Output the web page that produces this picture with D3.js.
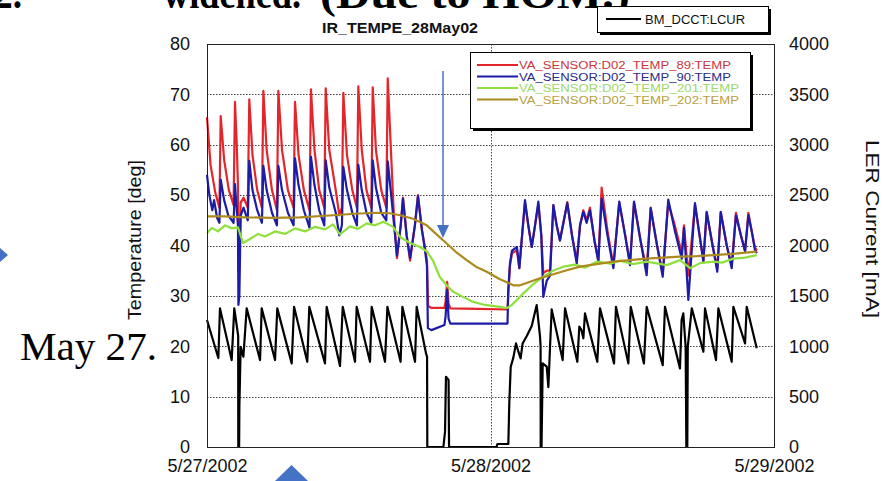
<!DOCTYPE html>
<html>
<head>
<meta charset="utf-8">
<script src="https://cdn.jsdelivr.net/npm/d3@7/dist/d3.min.js"></script>
<style>
  body { margin: 0; background: #fff; }
  svg { display: block; }
  .tick text { font-family: Arial, "Liberation Sans", sans-serif; font-size: 18px; fill: #111; }
</style>
</head>
<body>
<div id="chart"></div>
<script>
// ticks
var tempTicks = [0, 10, 20, 30, 40, 50, 60, 70, 80];
var currentTicks = [0, 500, 1000, 1500, 2000, 2500, 3000, 3500, 4000];
var dateTicks = ['2002-05-27', '2002-05-28', '2002-05-29'];

var seriesNames = [
  'VA_SENSOR:D02_TEMP_89:TEMP',
  'VA_SENSOR:D02_TEMP_90:TEMP',
  'VA_SENSOR:D02_TEMP_201:TEMP',
  'VA_SENSOR:D02_TEMP_202:TEMP'
];
var currentName = 'BM_DCCT:LCUR';

// [hours after 5/27/2002 00:00, value]
var temp89 = [
  [0, 65.5], [0.3, 56], [0.7, 50.5], [1.05, 47.5], [1.16, 65.7], [1.45, 57], [1.85, 51], [2.25, 48],
  [2.37, 68.5], [2.52, 60], [2.62, 52], [2.66, 35], [2.76, 38], [2.85, 48.5], [3.1, 49.5], [3.45, 47.5],
  [3.58, 69], [3.85, 58], [4.25, 51], [4.65, 47.5], [4.77, 70.7], [5.05, 59], [5.5, 51], [5.92, 47],
  [6.04, 70.7], [6.35, 59], [6.85, 51], [7.33, 47.5], [7.45, 68.5], [7.75, 58], [8.2, 51], [8.68, 47],
  [8.8, 71], [9.1, 59], [9.5, 51], [9.93, 47.5], [10.05, 71.2], [10.35, 59], [10.9, 51], [11.2, 46],
  [11.42, 47.5], [11.54, 70.3], [11.85, 58], [12.3, 51], [12.69, 47.5], [12.81, 71.6], [13.1, 59],
  [13.5, 51], [13.91, 47.5], [14.03, 71.4], [14.3, 59], [14.75, 51], [15.18, 47.5], [15.3, 73.2],
  [15.55, 60], [15.8, 47], [16.08, 37.5], [16.4, 44], [16.59, 49.5], [16.9, 42], [17.19, 37],
  [17.6, 44], [17.86, 50], [18.2, 43], [18.46, 39.5], [18.62, 37], [18.72, 28], [19, 27.6],
  [20.1, 27.6], [20.2, 29], [20.33, 32.8], [20.45, 28.5], [20.6, 27.5], [23, 27.4], [25.44, 27.3],
  [25.52, 31], [25.65, 36], [25.82, 38.5], [26.24, 39], [26.44, 35.5], [26.92, 48.5], [27.2, 44],
  [27.49, 39.7], [27.77, 44], [28.05, 48.2], [28.3, 42], [28.47, 34.5], [28.76, 35], [29.04, 35],
  [29.32, 48], [29.6, 44], [29.88, 41], [30.5, 48.6], [30.9, 42], [31.3, 37], [31.58, 44], [31.86, 47],
  [32.14, 45], [32.42, 47.5], [32.8, 41], [33.13, 37], [33.41, 51.5], [33.9, 43], [34.4, 36],
  [34.9, 48.5], [35.4, 42], [35.81, 36.5], [36.15, 48.5], [36.7, 41], [37.22, 35], [37.56, 47.5],
  [38.1, 40], [38.58, 34.5], [39.05, 48.5], [39.6, 44], [40.19, 38.5], [40.38, 44], [40.75, 34],
  [41.31, 48], [41.7, 42], [42.02, 37], [42.3, 46.5], [42.8, 40], [43.2, 35.5], [43.49, 46.5],
  [44.0, 40], [44.42, 36], [44.78, 46.5], [45.2, 42], [45.55, 39], [45.83, 46.5], [46.1, 43],
  [46.39, 39.5], [46.56, 39]
];

var temp90 = [
  [0, 54], [0.2, 50], [0.45, 47], [0.6, 49], [0.85, 45.5], [1.05, 44.5], [1.16, 53.1], [1.45, 49],
  [1.8, 46], [2.25, 44.5], [2.37, 52.2], [2.52, 47], [2.62, 44], [2.66, 28.2], [2.74, 30], [2.85, 46],
  [3.1, 47.5], [3.45, 45], [3.58, 56.8], [3.85, 51], [4.25, 47], [4.65, 44.5], [4.77, 55.8], [5.05, 51],
  [5.5, 46.5], [5.92, 44], [6.04, 55.8], [6.35, 51], [6.85, 46.5], [7.33, 44], [7.45, 57.3], [7.75, 52],
  [8.2, 47], [8.68, 43.5], [8.8, 57.6], [9.1, 52], [9.5, 47], [9.93, 44], [10.05, 56.9], [10.35, 51.5],
  [10.9, 46.5], [11.2, 42], [11.42, 44], [11.54, 55.6], [11.85, 51], [12.3, 46.5], [12.69, 44],
  [12.81, 56], [13.1, 51], [13.5, 46.5], [13.91, 44.5], [14.03, 56.9], [14.3, 51.5], [14.75, 46.5],
  [15.18, 45], [15.3, 56.7], [15.55, 51], [15.8, 45], [16.08, 38], [16.4, 44], [16.59, 49.3],
  [16.9, 42], [17.19, 37.5], [17.6, 44], [17.86, 49.8], [18.2, 43], [18.46, 39], [18.62, 36],
  [18.7, 23.6], [19, 23.2], [20.1, 24.2], [20.2, 26], [20.33, 31.2], [20.45, 25.5], [20.6, 24.5],
  [25.44, 24.5], [25.5, 31], [25.65, 36.5], [25.82, 39], [26.24, 39.7], [26.44, 35.5], [26.92, 49],
  [27.2, 44], [27.49, 39.7], [27.77, 44], [28.05, 48.7], [28.3, 42], [28.47, 29.8], [28.76, 33],
  [29.04, 34], [29.32, 48], [29.6, 44], [29.88, 41], [30.5, 48.4], [30.9, 42], [31.3, 36.4],
  [31.58, 44], [31.86, 46.7], [32.14, 44.5], [32.42, 47], [32.8, 41], [33.13, 36.8], [33.41, 49.3],
  [33.9, 42], [34.4, 35.5], [34.9, 48.7], [35.4, 42], [35.81, 36.1], [36.15, 48.7], [36.7, 41],
  [37.22, 34.1], [37.56, 47.4], [38.1, 40], [38.58, 33.8], [39.05, 49.1], [39.6, 43], [40.19, 37.4],
  [40.38, 43.5], [40.75, 29.2], [41.31, 48.4], [41.7, 42], [42.02, 36.8], [42.3, 46.7], [42.8, 40],
  [43.2, 34.8], [43.49, 46.7], [44.0, 40], [44.42, 35.5], [44.78, 46], [45.2, 42], [45.55, 38.8],
  [45.83, 46], [46.1, 43], [46.39, 39.1], [46.56, 38.5]
];

var temp201 = [
  [0, 42.5], [0.42, 43.5], [0.93, 42.8], [1.52, 44], [2.12, 43.4], [2.62, 43.6], [3.05, 40.5],
  [3.64, 41.3], [4.32, 42.3], [4.91, 41.8], [5.76, 42.8], [6.6, 42.3], [7.45, 43.4], [8.3, 42.8],
  [9.14, 43.7], [9.99, 43.2], [10.67, 44.2], [11.26, 42.2], [12.1, 43.8], [12.78, 43.3], [13.52, 44.4],
  [14.22, 44], [14.93, 44.7], [15.75, 43.7], [16.34, 41.7], [17.19, 40.5], [18.03, 39.7], [18.62, 38.8],
  [19.13, 37], [19.7, 33.8], [20.32, 32], [20.85, 30.8], [21.67, 29.8], [22.54, 28.8], [23.53, 28.2],
  [24.8, 27.8], [25.4, 27.6], [25.8, 28.2], [26.78, 30.5], [27.6, 32.3], [28.47, 33.8], [29.29, 35],
  [30.16, 35.8], [31.15, 36.2], [32.0, 35.6], [32.99, 36.8], [34.12, 36.4], [34.96, 37], [36.06, 36.3],
  [37.22, 36.8], [37.93, 36.5], [38.92, 36.1], [40.05, 37.1], [40.9, 35.5], [41.74, 36.5], [42.88, 36.8],
  [43.6, 36.6], [44.57, 37.4], [45.55, 37.6], [46.53, 38.1]
];

var temp202 = [
  [0, 45.8], [1.52, 45.8], [3.22, 45.6], [5.33, 45.5], [7.87, 45.6], [10.69, 46], [12.53, 46.3],
  [14.37, 46.5], [15.49, 46.4], [16.34, 46], [17.44, 45.3], [18.6, 44], [19.39, 42.3], [20.29, 40.4],
  [21.08, 38.7], [21.98, 37.1], [22.77, 35.8], [23.68, 34.8], [24.8, 33.3], [25.48, 32.6], [25.93, 32.1],
  [26.5, 32.1], [27.35, 32.8], [28.19, 33.5], [29.04, 34.1], [30.31, 35], [31.58, 35.8], [32.99, 36.3],
  [34.4, 36.8], [35.81, 37.1], [37.22, 37.4], [38.6, 37.6], [40.05, 37.8], [41.48, 37.9], [42.88, 38.1],
  [44.7, 38.4], [46.53, 38.8]
];

var lcur = [
  [0, 1260], [0.96, 883], [1.1, 1376], [2.09, 863], [2.31, 1376], [2.57, 1161], [2.64, 1100], [2.65, 0],
  [2.72, 0], [2.74, 400], [2.85, 995], [3.08, 896], [3.36, 1376], [4.49, 863], [4.63, 1376], [5.76, 863],
  [5.95, 1376], [7.17, 830], [7.37, 1392], [8.49, 846], [8.66, 1392], [9.99, 830], [10.13, 1392],
  [11.26, 804], [11.49, 1392], [12.53, 846], [12.67, 1392], [13.8, 846], [13.94, 1392], [15.07, 846],
  [15.27, 1392], [16.39, 846], [16.54, 1392], [17.61, 846], [17.75, 1392], [18.54, 929], [18.63, 896],
  [18.65, 0], [20.01, 0], [20.15, 150], [20.23, 697], [20.45, 665], [20.49, 0], [24.52, 0], [24.58, 30],
  [25.51, 30], [25.59, 433], [25.71, 795], [25.93, 885], [26.16, 1028], [26.36, 946], [26.55, 880],
  [26.72, 1028], [27.06, 1100], [27.49, 1200], [27.91, 1409], [28.19, 1100], [28.24, 1000], [28.25, 0],
  [28.32, 0], [28.42, 830], [28.76, 797], [28.9, 595], [29.04, 995], [29.18, 1366], [30.11, 863],
  [30.31, 1376], [31.35, 846], [31.52, 1195], [31.7, 1161], [31.86, 1079], [32.0, 1326], [33.04, 846],
  [33.27, 1376], [34.46, 830], [34.62, 1392], [35.67, 830], [35.87, 1392], [36.99, 830], [37.22, 1392],
  [38.58, 813], [38.77, 1392], [40.04, 780], [40.18, 1260], [40.32, 1326], [40.52, 995], [40.58, 0],
  [40.66, 0], [40.7, 995], [41.04, 1376], [42.02, 946], [42.16, 1376], [43.09, 863], [43.29, 1376],
  [44.42, 846], [44.56, 1392], [45.55, 1028], [45.69, 1392], [46.54, 979]
];

var colors = ['#e3262c', '#1c1ca6', '#8fe03c', '#ad8a1e'];
var textColors = ['#c8363a', '#2a2a8a', '#9ed86a', '#b8a040'];

var width = 894, height = 481;
var plot = { left: 207, right: 774, top: 44, bottom: 447 };
var t0 = Date.UTC(2002, 4, 27);
function toDate(h) { return new Date(t0 + h * 3600e3); }

var svg = d3.select('#chart').append('svg')
  .attr('width', width)
  .attr('height', height);

var x = d3.scaleUtc()
  .domain([toDate(0), toDate(48)])
  .range([plot.left, plot.right]);
var yT = d3.scaleLinear().domain([0, 80]).range([plot.bottom, plot.top]);
var yI = d3.scaleLinear().domain([0, 4000]).range([plot.bottom, plot.top]);

// slide fragments behind the chart
var serif = '"Liberation Serif", "Times New Roman", serif';
function slideText(tx, ty, size, bold, str, len) {
  var t = svg.append('text').attr('x', tx).attr('y', ty)
    .style('font-family', serif).style('font-size', size + 'px')
    .style('font-weight', bold ? 'bold' : 'normal')
    .text(str);
  if (len) t.attr('textLength', len).attr('lengthAdjust', 'spacingAndGlyphs');
  return t;
}
slideText(-6, 8, 42, true, '2.', 28);
slideText(163, 8, 42, true, 'widened.', 138);
slideText(320, 8, 42, true, '(Due to HOM.)', 310);
slideText(20, 360, 41, false, 'May 27.', 137);

// grid
var grid = svg.append('g').attr('class', 'grid')
  .attr('stroke', '#444').attr('stroke-width', 1).attr('stroke-dasharray', '1.5,1.5');
grid.selectAll('line.h')
  .data(tempTicks.filter(function (d) { return d > 0 && d < 80; }))
  .enter().append('line')
  .attr('x1', plot.left).attr('x2', plot.right)
  .attr('y1', function (d) { return Math.round(yT(d)) + 0.5; })
  .attr('y2', function (d) { return Math.round(yT(d)) + 0.5; });
grid.append('line')
  .attr('x1', Math.round(x(new Date(dateTicks[1]))) + 0.5)
  .attr('x2', Math.round(x(new Date(dateTicks[1]))) + 0.5)
  .attr('y1', plot.top).attr('y2', plot.bottom);

// series
var lineT = d3.line()
  .x(function (d) { return x(toDate(d[0])); })
  .y(function (d) { return yT(d[1]); });
var lineI = d3.line()
  .x(function (d) { return x(toDate(d[0])); })
  .y(function (d) { return yI(d[1]); });

svg.append('path').datum(lcur)
  .attr('d', lineI).attr('fill', 'none').attr('stroke', '#000')
  .attr('stroke-width', 2.2).attr('stroke-linejoin', 'round');

[temp89, temp90, temp201, temp202].forEach(function (s, i) {
  svg.append('path').datum(s)
    .attr('d', lineT).attr('fill', 'none').attr('stroke', colors[i])
    .attr('stroke-width', 2.2).attr('stroke-linejoin', 'round');
});

// frame
svg.append('rect')
  .attr('x', plot.left + 0.5).attr('y', plot.top + 0.5)
  .attr('width', plot.right - plot.left).attr('height', plot.bottom - plot.top)
  .attr('fill', 'none').attr('stroke', '#222').attr('stroke-width', 1);

// axes
var axL = svg.append('g').attr('transform', 'translate(' + plot.left + ',0)')
  .call(d3.axisLeft(yT).tickValues(tempTicks).tickSize(0).tickPadding(17));
var axR = svg.append('g').attr('transform', 'translate(' + plot.right + ',0)')
  .call(d3.axisRight(yI).tickValues(currentTicks).tickFormat(d3.format('d'))
    .tickSize(0).tickPadding(15));
var axB = svg.append('g').attr('transform', 'translate(0,' + plot.bottom + ')')
  .call(d3.axisBottom(x)
    .tickValues(dateTicks.map(function (d) { return new Date(d); }))
    .tickFormat(d3.utcFormat('%-m/%-d/%Y'))
    .tickSize(0).tickPadding(12));
[axL, axR, axB].forEach(function (a) { a.select('.domain').remove(); });

var sans = 'Arial, "Liberation Sans", sans-serif';
svg.append('text')
  .attr('transform', 'translate(141,240) rotate(-90)')
  .attr('text-anchor', 'middle')
  .style('font-family', sans).style('font-size', '18px').attr('fill', '#111')
  .attr('textLength', 160).attr('lengthAdjust', 'spacingAndGlyphs')
  .text('Temperature [deg]');
svg.append('text')
  .attr('transform', 'translate(866,229) rotate(90)')
  .attr('text-anchor', 'middle')
  .style('font-family', sans).style('font-size', '18px').attr('fill', '#111')
  .attr('textLength', 178).attr('lengthAdjust', 'spacingAndGlyphs')
  .text('LER Current [mA]');
svg.append('text')
  .attr('x', 400).attr('y', 33)
  .attr('text-anchor', 'middle')
  .style('font-family', sans).style('font-size', '14px').style('font-weight', 'bold')
  .attr('fill', '#111')
  .attr('textLength', 156).attr('lengthAdjust', 'spacingAndGlyphs')
  .text('IR_TEMPE_28May02');

// legend: temperatures
var leg = svg.append('g');
leg.append('rect').attr('x', 473).attr('y', 55).attr('width', 280).attr('height', 76).attr('fill', '#000');
leg.append('rect').attr('x', 470.5).attr('y', 52.5).attr('width', 280).attr('height', 76)
  .attr('fill', '#fff').attr('stroke', '#000').attr('stroke-width', 1);
var rows = leg.selectAll('g.row').data(seriesNames).enter().append('g')
  .attr('transform', function (d, i) { return 'translate(0,' + (65 + i * 11.5) + ')'; });
rows.append('line').attr('x1', 477).attr('x2', 518)
  .attr('stroke', function (d, i) { return colors[i]; }).attr('stroke-width', 2);
rows.append('text').attr('x', 519).attr('y', 4)
  .style('font-family', sans).style('font-size', '10px')
  .attr('fill', function (d, i) { return textColors[i]; })
  .attr('textLength', function (d) { return d.length * 8.15; })
  .attr('lengthAdjust', 'spacingAndGlyphs')
  .text(function (d) { return d; });

// legend: current
var leg2 = svg.append('g');
leg2.append('rect').attr('x', 600).attr('y', 9).attr('width', 171).attr('height', 26).attr('fill', '#000');
leg2.append('rect').attr('x', 597.5).attr('y', 6.5).attr('width', 171).attr('height', 26)
  .attr('fill', '#fff').attr('stroke', '#000').attr('stroke-width', 1);
leg2.append('line').attr('x1', 606).attr('x2', 641).attr('y1', 19).attr('y2', 19)
  .attr('stroke', '#000').attr('stroke-width', 2);
leg2.append('text').attr('x', 645).attr('y', 23.5)
  .style('font-family', sans).style('font-size', '12px').attr('fill', '#111')
  .attr('textLength', 100).attr('lengthAdjust', 'spacingAndGlyphs')
  .text(currentName);

// annotation arrows
var arrowBlue = '#4472c4';
svg.append('line').attr('x1', 443).attr('x2', 443).attr('y1', 71).attr('y2', 228)
  .attr('stroke', arrowBlue).attr('stroke-width', 1.5);
svg.append('path').attr('d', 'M437,225L449,225L443,238Z').attr('fill', arrowBlue);
svg.append('path').attr('d', 'M275,481L291.5,465L308,481Z').attr('fill', arrowBlue);
svg.append('path').attr('d', 'M0,248L8,255L0,262Z').attr('fill', arrowBlue);
</script>
</body>
</html>
